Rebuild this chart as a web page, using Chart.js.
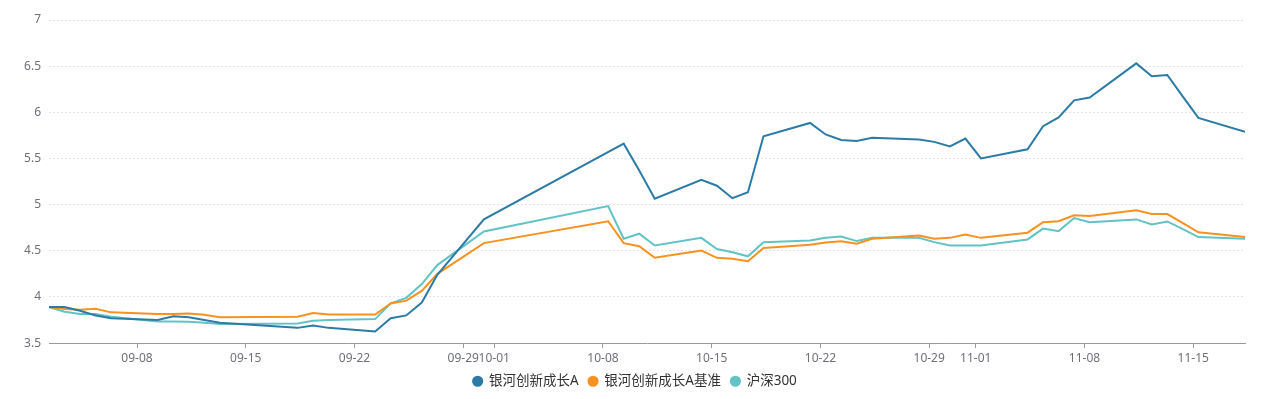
<!DOCTYPE html>
<html>
<head>
<meta charset="utf-8">
<script src="https://cdn.jsdelivr.net/npm/chart.js@4.4.1/dist/chart.umd.min.js"></script>
<style>
  html, body { margin: 0; padding: 0; background: #fff; }
  #wrap { width: 1270px; height: 399px; position: relative; }
</style>
</head>
<body>
<div id="wrap"><canvas id="chart-nav"></canvas></div>
<script>
// trading days (2024)
const fechas = [
  '09-02','09-03','09-04','09-05','09-06','09-09','09-10','09-11','09-12','09-13',
  '09-18','09-19','09-20','09-23','09-24','09-25','09-26','09-27','09-30',
  '10-08','10-09','10-10','10-11','10-14','10-15','10-16','10-17','10-18',
  '10-21','10-22','10-23','10-24','10-25','10-28','10-29','10-30','10-31',
  '11-01','11-04','11-05','11-06','11-07','11-08','11-11','11-12','11-13','11-14','11-15','11-18'
];

// 银河创新成长A
const fondo = [
  3.89, 3.89, 3.85, 3.80, 3.77, 3.75, 3.79, 3.78, 3.75, 3.72,
  3.665, 3.69, 3.665, 3.625, 3.77, 3.80, 3.94, 4.24, 4.84,
  null, 5.66, 5.37, 5.065, 5.27, 5.205, 5.07, 5.135, 5.74,
  5.885, 5.76, 5.70, 5.69, 5.725, 5.705, 5.68, 5.63, 5.715,
  5.50, 5.60, 5.85, 5.945, 6.13, 6.16, 6.53, 6.39, 6.405, 6.17, 5.94, 5.79
];

// 银河创新成长A基准
const base = [
  3.89, 3.87, 3.86, 3.873, 3.833, 3.815, 3.815, 3.82, 3.808, 3.78,
  3.785, 3.826, 3.81, 3.81, 3.93, 3.96, 4.065, 4.25, 4.583,
  4.82, 4.583, 4.55, 4.424, 4.503, 4.424, 4.413, 4.387, 4.53,
  4.565, 4.59, 4.604, 4.576, 4.63, 4.666, 4.63, 4.64, 4.677,
  4.64, 4.696, 4.81, 4.82, 4.884, 4.876, 4.938, 4.898, 4.898, 4.80, 4.70, 4.648
];

// 沪深300
const hs300 = [
  3.89, 3.84, 3.815, 3.815, 3.786, 3.735, 3.735, 3.73, 3.72, 3.706,
  3.713, 3.742, 3.75, 3.76, 3.93, 3.99, 4.14, 4.345, 4.71,
  4.985, 4.63, 4.685, 4.558, 4.64, 4.52, 4.485, 4.44, 4.593,
  4.612, 4.64, 4.655, 4.605, 4.64, 4.64, 4.594, 4.558, 4.558,
  4.558, 4.623, 4.74, 4.713, 4.855, 4.81, 4.84, 4.786, 4.818, 4.735, 4.648, 4.63
];

const tickFechas = ['09-08','09-15','09-22','09-29','10-01','10-08','10-15','10-22','10-29','11-01','11-08','11-15'];
const yTicks = [3.5, 4, 4.5, 5, 5.5, 6, 6.5, 7];

const ANIO = 2024;
const HORA = 8 / 24; // points sit at 08:00 of each day

function diaNum(mmdd) {
  const [m, d] = mmdd.split('-').map(Number);
  return Date.UTC(ANIO, m - 1, d) / 86400000;
}

function serie(valores) {
  return fechas.map((f, i) => ({ x: diaNum(f) + HORA, y: valores[i] }));
}

const FUENTE = '"Noto Sans", "Noto Sans CJK SC", sans-serif';
Chart.defaults.font.family = FUENTE;

// center the legend on the whole canvas, not on the padded box
const centrarLeyenda = {
  id: 'centrarLeyenda',
  afterLayout(chart) {
    const lg = chart.legend;
    if (!lg) return;
    const dx = (chart.width - (lg.left + lg.right)) / 2;
    lg.left += dx;
    lg.right += dx;
  }
};

const canvas = document.getElementById('chart-nav');

new Chart(canvas, {
  type: 'line',
  data: {
    datasets: [
      { label: '银河创新成长A', data: serie(fondo), borderColor: '#2c7ba6', backgroundColor: '#2c7ba6' },
      { label: '银河创新成长A基准', data: serie(base), borderColor: '#f7911f', backgroundColor: '#f7911f' },
      { label: '沪深300', data: serie(hs300), borderColor: '#62c3c6', backgroundColor: '#62c3c6' }
    ].map(d => Object.assign(d, {
      borderWidth: 2,
      pointRadius: 0,
      pointHoverRadius: 0,
      tension: 0,
      spanGaps: true,
      fill: false
    }))
  },
  plugins: [centrarLeyenda],
  options: {
    responsive: true,
    maintainAspectRatio: false,
    animation: false,
    layout: { padding: { left: 0, right: 25, top: 20, bottom: 1 } },
    scales: {
      x: {
        type: 'linear',
        min: diaNum(fechas[0]) + HORA,
        max: diaNum(fechas[fechas.length - 1]) + HORA,
        afterBuildTicks: s => { s.ticks = tickFechas.map(f => ({ value: diaNum(f) })); },
        afterFit: s => { s.height = s.height - 4; },
        ticks: {
          autoSkip: false,
          maxRotation: 0,
          padding: 3,
          color: '#6e7079',
          font: { size: 12 },
          callback: (v, i) => tickFechas[i]
        },
        grid: { display: true, drawOnChartArea: false, drawTicks: true, tickLength: 5, color: '#9a9a9a' },
        border: { display: true, color: '#9a9a9a' }
      },
      y: {
        min: yTicks[0],
        max: yTicks[yTicks.length - 1],
        afterBuildTicks: s => { s.ticks = yTicks.map(v => ({ value: v })); },
        afterFit: s => { s.width = 49; },
        ticks: {
          padding: 8,
          color: '#6e7079',
          font: { size: 12 },
          callback: v => String(v)
        },
        grid: { color: '#e3e3e3', drawTicks: false },
        border: { display: false, dash: [2, 2] }
      }
    },
    plugins: {
      legend: {
        position: 'bottom',
        labels: {
          usePointStyle: true,
          pointStyle: 'circle',
          boxWidth: 9,
          boxHeight: 6.5,
          padding: 10,
          color: '#333',
          font: { size: 13.5, family: FUENTE }
        }
      },
      tooltip: { enabled: false }
    }
  }
});
</script>
</body>
</html>
